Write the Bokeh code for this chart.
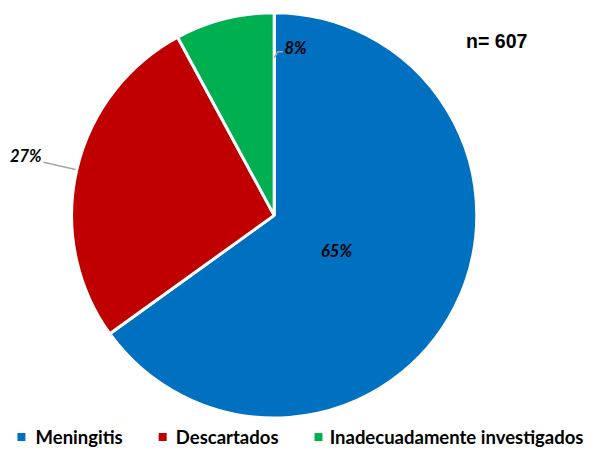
import numpy as np
from bokeh.plotting import figure
from bokeh.models import ColumnDataSource
from bokeh.core.properties import value
from bokeh.embed import file_html
from bokeh.resources import INLINE

# data (n = 607)
categories = ['Meningitis', 'Descartados', 'Inadecuadamente investigados']
counts = [395, 164, 48]
colors = ['#0070C0', '#C00000', '#00B050']
total_label = 'n= 607'

# the figure is 599x452 px; the ranges keep the 615x468 reference grid
W, H = 599, 452
RW, RH = 615, 468


def ry(y):
    # reference pixel row -> data y
    return RH - y


cx, cy, R = 281, ry(222.5), 208

share = np.array(counts) / sum(counts)
cum = np.concatenate([[0], np.cumsum(share)])
# clockwise from twelve o'clock
start = np.pi / 2 - cum[1:] * 2 * np.pi
end = np.pi / 2 - cum[:-1] * 2 * np.pi
pct = ['{:.0f}%'.format(s * 100) for s in share]

src = ColumnDataSource(dict(start=start, end=end, color=colors, cat=categories))

p = figure(width=W, height=H, x_range=(0, RW), y_range=(0, RH),
           output_backend="svg", toolbar_location=None, min_border=0)
p.axis.visible = False
p.grid.visible = False
p.outline_line_color = None
p.background_fill_color = 'white'

p.wedge(x=cx, y=cy, radius=R, start_angle='start', end_angle='end',
        fill_color='color', line_color='white', line_width=3, source=src)

# data labels
lab_x = [345, 26, 303]
lab_y = [ry(259), ry(161.5), ry(49)]
p.text(x=lab_x, y=lab_y, text=pct, text_align='center', text_baseline='middle',
       text_font=value('Lato'), text_font_style='bold italic',
       text_font_size='16.5px', text_color='black')

# leader lines
p.line([44, 77], [ry(167.5), ry(175)], line_color='#A6A6A6', line_width=1.5)
p.line([281, 285, 290], [ry(59), ry(53), ry(53)],
       line_color='#A6A6A6', line_width=1.5)

p.text(x=[478], y=[ry(42)], text=[total_label], text_align='left',
       text_baseline='middle', text_font=value('Liberation Sans'),
       text_font_style='bold', text_font_size='19.5px', text_color='black')

# legend
leg_sq_x = [21.5, 166.5, 326.5]
leg_tx_x = [36, 180, 338]
leg_y = ry(452)
p.scatter(x=leg_sq_x, y=[leg_y] * 3, marker='square', size=8,
          fill_color=colors, line_color=None)
p.text(x=leg_tx_x, y=[leg_y] * 3, text=categories, text_align='left',
       text_baseline='middle', text_font=value('Lato'), text_font_style='bold',
       text_font_size='18.5px', text_color='black')

open("out.html", "w").write(file_html(p, INLINE))
